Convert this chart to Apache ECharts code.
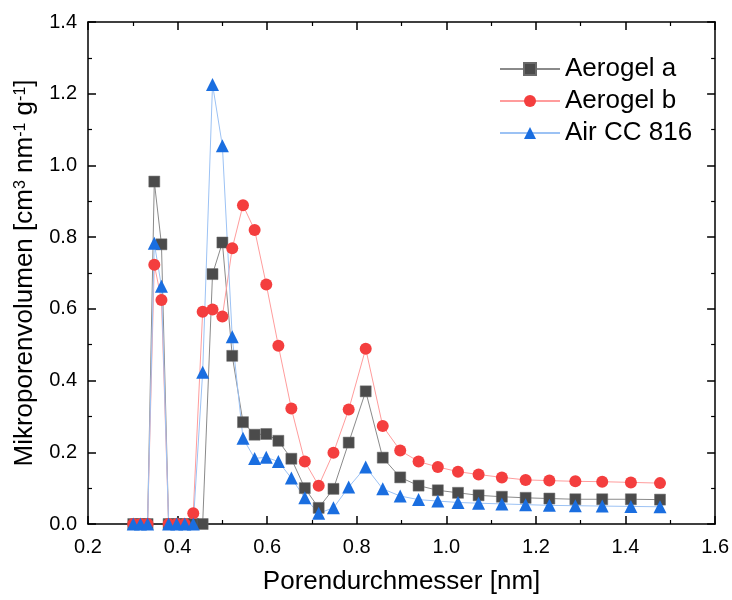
<!DOCTYPE html>
<html>
<head>
<meta charset="utf-8">
<script src="https://cdn.jsdelivr.net/npm/echarts@6/dist/echarts.min.js"></script>
<style>html,body{margin:0;padding:0;background:#fff}#c{width:732px;height:600px}</style>
</head>
<body>
<div id="c"></div>
<script>
const xValues = [0.301, 0.317, 0.333, 0.348, 0.364, 0.380, 0.398, 0.416, 0.435, 0.456,
  0.478, 0.500, 0.522, 0.546, 0.572, 0.598, 0.625, 0.654, 0.684, 0.715,
  0.748, 0.782, 0.820, 0.858, 0.897, 0.938, 0.981, 1.026, 1.072, 1.124,
  1.177, 1.230, 1.288, 1.348, 1.412, 1.477];
const aerogelA = [0, 0, 0, 0.955, 0.780, 0, 0, 0, 0, 0,
  0.697, 0.785, 0.469, 0.284, 0.249, 0.251, 0.232, 0.182, 0.100, 0.045,
  0.098, 0.227, 0.370, 0.185, 0.130, 0.107, 0.094, 0.087, 0.080, 0.076,
  0.073, 0.071, 0.069, 0.069, 0.069, 0.068];
const aerogelB = [0, 0, 0, 0.723, 0.625, 0, 0, 0, 0.030, 0.592,
  0.598, 0.579, 0.769, 0.889, 0.820, 0.668, 0.497, 0.322, 0.174, 0.107,
  0.199, 0.319, 0.489, 0.273, 0.205, 0.174, 0.159, 0.146, 0.138, 0.130,
  0.123, 0.121, 0.119, 0.118, 0.116, 0.114];
const airCC = [0, 0, 0, 0.783, 0.663, 0, 0, 0, 0, 0.423,
  1.226, 1.055, 0.522, 0.239, 0.183, 0.186, 0.174, 0.128, 0.073, 0.030,
  0.045, 0.103, 0.159, 0.098, 0.078, 0.068, 0.064, 0.060, 0.058, 0.056,
  0.054, 0.052, 0.051, 0.050, 0.049, 0.048];
const seriesNames = ['Aerogel a', 'Aerogel b', 'Air CC 816'];
const xTitle = 'Porendurchmesser [nm]';

const FONT = 'Liberation Sans, Arial, sans-serif';
const pair = arr => arr.map((v, i) => [xValues[i], v]);

const axisCommon = {
  axisLine: { show: true, onZero: false, lineStyle: { color: '#000', width: 1.5 } },
  axisTick: { show: true, inside: true, length: 8, lineStyle: { color: '#000', width: 1.5 } },
  minorTick: { show: true, splitNumber: 2, length: 4, lineStyle: { color: '#000', width: 1.2 } },
  splitLine: { show: false },
  minorSplitLine: { show: false }
};

const chart = echarts.init(document.getElementById('c'), null, { renderer: 'canvas' });
chart.setOption({
  backgroundColor: '#fff',
  animation: false,
  textStyle: { fontFamily: FONT },
  grid: { left: 88, right: 16, top: 22, bottom: 72, containLabel: false },
  legend: {
    orient: 'vertical',
    left: 494, top: 51,
    itemWidth: 60, itemHeight: 15, itemGap: 6,
    data: seriesNames,
    textStyle: { fontSize: 26, color: '#000', fontFamily: FONT }
  },
  xAxis: [
    Object.assign({
      type: 'value', min: 0.2, max: 1.6, interval: 0.2, position: 'bottom',
      axisLabel: { fontSize: 20, color: '#000', margin: 13, fontFamily: FONT,
        formatter: v => v.toFixed(1) },
      name: xTitle, nameLocation: 'middle', nameGap: 45,
      nameTextStyle: { fontSize: 26, color: '#000', fontFamily: FONT }
    }, axisCommon),
    Object.assign({
      type: 'value', min: 0.2, max: 1.6, interval: 0.2, position: 'top',
      axisLabel: { show: false }
    }, axisCommon)
  ],
  yAxis: [
    Object.assign({
      type: 'value', min: 0, max: 1.4, interval: 0.2, position: 'left',
      axisLabel: { fontSize: 20, color: '#000', margin: 11, fontFamily: FONT,
        formatter: v => v.toFixed(1) },
      name: '{n|Mikroporenvolumen [cm}{s|3}{n| nm}{s|-1}{n| g}{s|-1}{n|]}',
      nameLocation: 'middle', nameGap: 47, nameRotate: 90,
      nameTextStyle: {
        color: '#000', fontFamily: FONT,
        rich: {
          n: { fontSize: 26, color: '#000', fontFamily: FONT },
          s: { fontSize: 16, color: '#000', fontFamily: FONT, verticalAlign: 'top' }
        }
      }
    }, axisCommon),
    Object.assign({
      type: 'value', min: 0, max: 1.4, interval: 0.2, position: 'right',
      axisLabel: { show: false }
    }, axisCommon)
  ],
  series: [
    {
      name: seriesNames[0], type: 'line', data: pair(aerogelA),
      symbol: 'rect', symbolSize: 11,
      itemStyle: { color: '#4b4b4b', borderColor: '#6a6a6a', borderWidth: 0.5 },
      lineStyle: { color: '#8a8a8a', width: 1 }
    },
    {
      name: seriesNames[1], type: 'line', data: pair(aerogelB),
      symbol: 'circle', symbolSize: 12,
      itemStyle: { color: '#f43e3e' },
      lineStyle: { color: '#ff9c9c', width: 1 }
    },
    {
      name: seriesNames[2], type: 'line', data: pair(airCC),
      symbol: 'triangle', symbolSize: 13,
      itemStyle: { color: '#1a6ee0' },
      lineStyle: { color: '#9cc2f4', width: 1 }
    }
  ]
});
</script>
</body>
</html>
